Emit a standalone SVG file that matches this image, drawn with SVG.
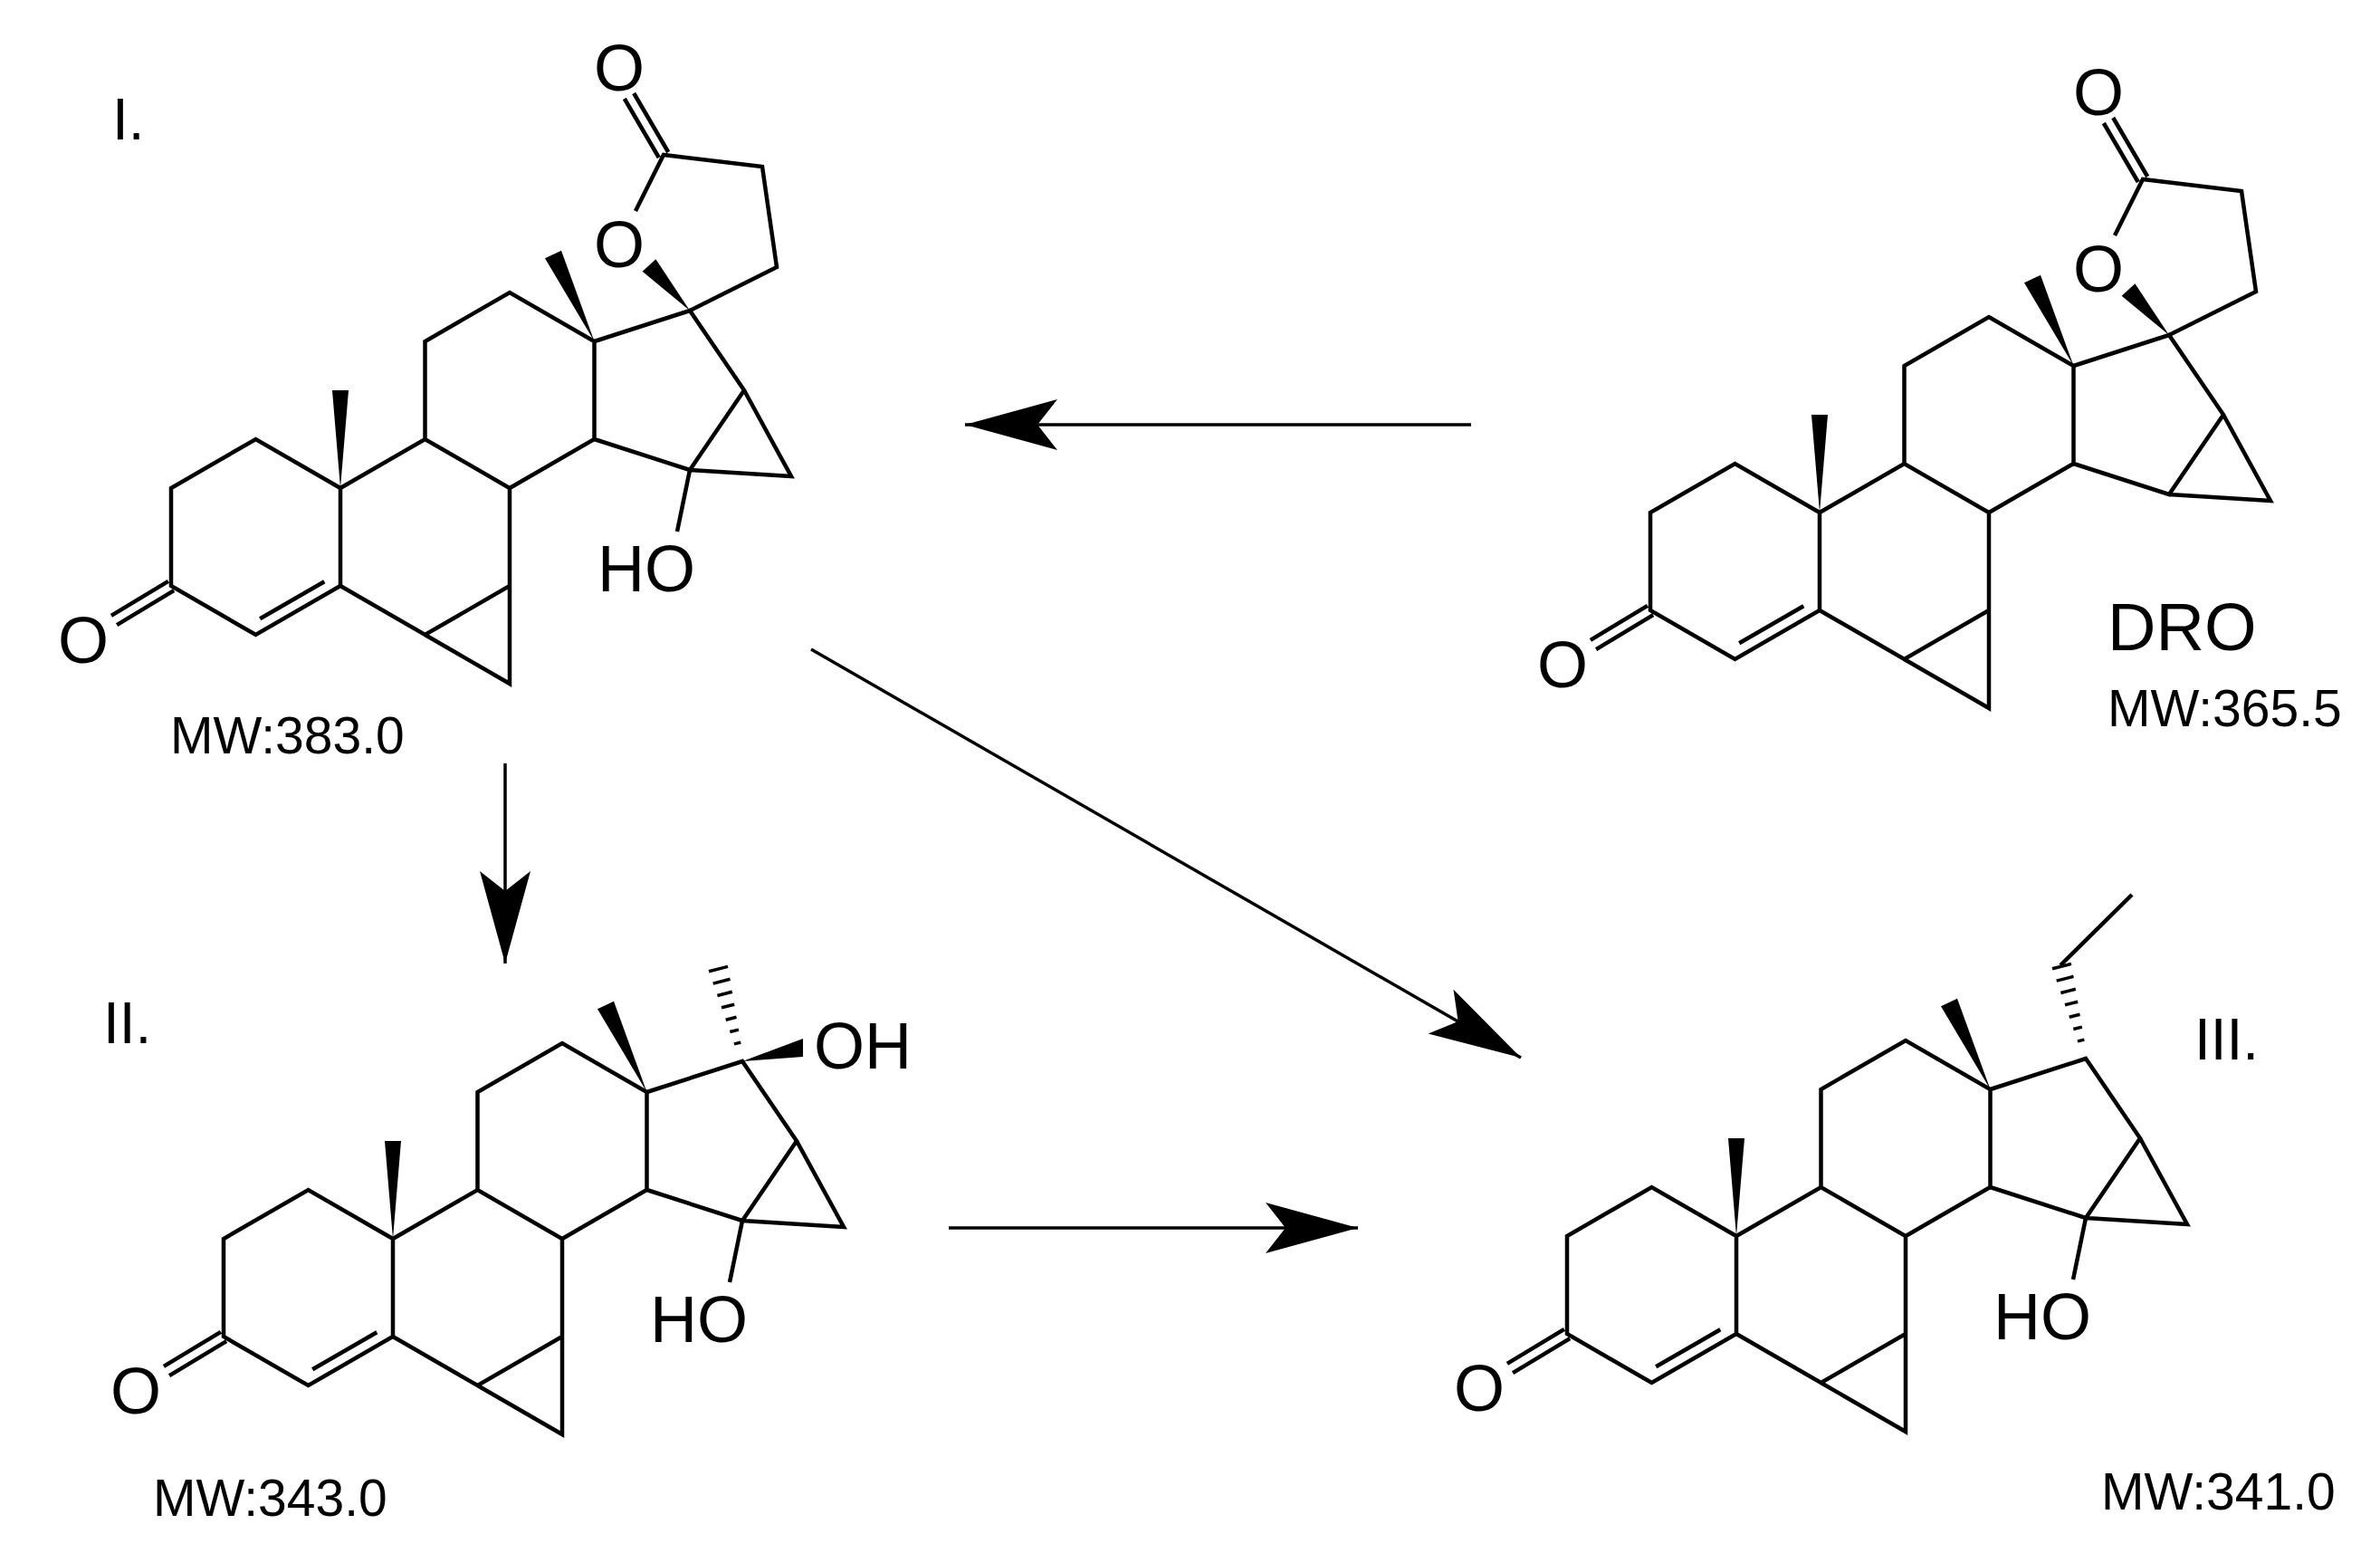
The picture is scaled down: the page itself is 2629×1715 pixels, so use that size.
<svg xmlns="http://www.w3.org/2000/svg" xmlns:xlink="http://www.w3.org/1999/xlink" width="2629" height="1715" viewBox="0 0 2629 1715">
<style>
.b{fill:none;stroke:#000;stroke-width:4.5;stroke-linejoin:miter;stroke-linecap:butt}
.w{fill:#000;stroke:none}
.h{fill:none;stroke:#000;stroke-width:3.5}
.at{font-family:"Liberation Sans",Arial,sans-serif;font-size:72px;fill:#000}
.mw{font-family:"Liberation Sans",Arial,sans-serif;font-size:57px;fill:#000}
.lb{font-family:"Liberation Sans",Arial,sans-serif;font-size:64px;fill:#000}
.ar{fill:none;stroke:#000;stroke-width:3.5}
</style>
<defs>
<marker id="ah" markerUnits="userSpaceOnUse" markerWidth="120" markerHeight="80" viewBox="-110 -40 120 80" refX="0" refY="0" orient="auto">
<path d="M0,0 L-102,-28 L-80,0 L-102,28 Z" fill="#000"/>
</marker>
<g id="core">
<path class="b" d="M0,0 L-93.5,-54 L-187,0 L-187,108 L-93.5,162 L0,108 Z M0,108 L93.5,162 L187,108 L187,0 L93.5,-54 L0,0 M93.5,162 L187,216 L187,108 M93.5,-54 L93.5,-162 L187,-216 L280.5,-162 L280.5,-54 L187,0 M280.5,-162 L386,-196 L446,-108 L386,-20 L280.5,-54 Z M446,-108 L498,-13 L386,-20 M-88.8,144.2 L-17.7,103.2 M-183.9,113.1 L-246.9,151.1 M-190.1,102.9 L-253.1,140.9"/>
<polygon class="w" points="0,0 -9,-108 9,-108"/>
<polygon class="w" points="280.5,-162 226,-253.7 244,-262.3"/>
</g>
<g id="lactone">
<path class="b" d="M326,-306 L357,-368 L466,-355 L482,-244 L386,-196 M362.2,-371 L324.2,-436 M351.8,-365 L313.8,-430"/>
<polygon class="w" points="386,-196 348.4,-252.7 333.6,-239.3"/>
<text class="at" x="308" y="-244" text-anchor="middle">O</text>
<text class="at" x="308" y="-439" text-anchor="middle">O</text>
</g>
<g id="c15oh">
<path class="b" d="M386,-20 L372,48"/>
<text class="at" x="284" y="114">HO</text>
</g>
<path id="hash" class="h" d="M376.9,-215.1 L384.3,-216.9 M372.3,-228.5 L381.9,-230.9 M367.7,-241.8 L379.5,-244.8 M363,-255.2 L377.2,-258.8 M358.4,-268.5 L374.8,-272.7 M353.7,-281.9 L372.5,-286.7 M349,-295.2 L370,-300.6"/>
<text id="ketO" class="at" x="-284" y="193" text-anchor="middle">O</text>
</defs>

<g id="compound-I" transform="translate(376,539)">
<use xlink:href="#core"/>
<use xlink:href="#ketO"/>
<use xlink:href="#lactone"/>
<use xlink:href="#c15oh"/>
</g>
<g id="label-I"><text class="lb" x="124" y="154">I.</text><text class="mw" x="188" y="832">MW:383.0</text></g>

<g id="compound-II" transform="translate(434,1368)">
<use xlink:href="#core"/>
<use xlink:href="#ketO"/>
<use xlink:href="#c15oh"/>
<use xlink:href="#hash"/>
<polygon class="w" points="386,-196 453,-221 453,-201"/>
<text class="at" x="465" y="-188">OH</text>
</g>
<g id="label-II"><text class="lb" x="114" y="1152">II.</text><text class="mw" x="169" y="1674">MW:343.0</text></g>

<g id="compound-DRO" transform="translate(2010,566)">
<use xlink:href="#core"/>
<use xlink:href="#ketO"/>
<use xlink:href="#lactone"/>
</g>
<g id="label-DRO"><text class="at" x="2328" y="718" style="font-size:74px">DRO</text><text class="mw" x="2328" y="802">MW:365.5</text></g>

<g id="compound-III" transform="translate(1918,1365)">
<use xlink:href="#core"/>
<use xlink:href="#ketO"/>
<use xlink:href="#c15oh"/>
<use xlink:href="#hash"/>
<path class="b" d="M358,-299 L437,-377"/>
</g>
<g id="label-III"><text class="lb" x="2424" y="1170">III.</text><text class="mw" x="2321" y="1667">MW:341.0</text></g>

<g id="connectors">
<line class="ar" x1="1625" y1="469" x2="1066" y2="469" marker-end="url(#ah)"/>
<line class="ar" x1="558" y1="843" x2="558" y2="1064" marker-end="url(#ah)"/>
<line class="ar" x1="896" y1="717" x2="1680" y2="1168" marker-end="url(#ah)"/>
<line class="ar" x1="1048" y1="1356" x2="1500" y2="1356" marker-end="url(#ah)"/>
</g>
</svg>
